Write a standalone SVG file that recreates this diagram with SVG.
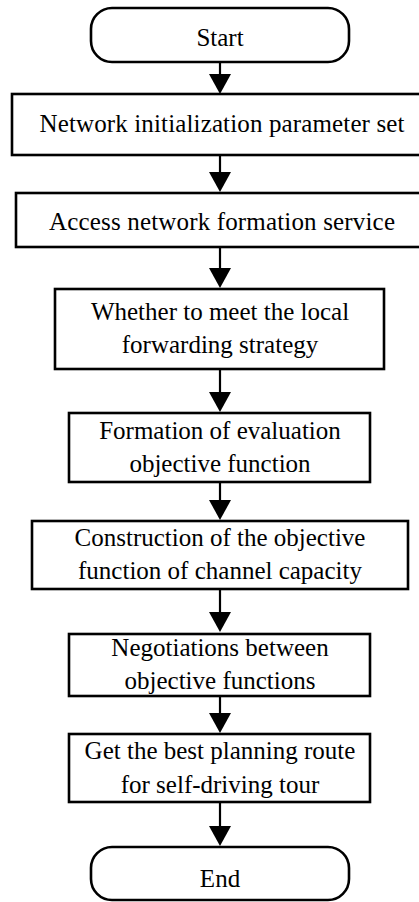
<svg xmlns="http://www.w3.org/2000/svg" width="419" height="902" viewBox="0 0 419 902">
<defs>
<style>
.box{fill:#fff;stroke:#000;stroke-width:2.6}
.t{font-family:'Liberation Serif','DejaVu Serif',serif;font-size:25px;fill:#000;text-anchor:middle}
.c{stroke:#000;stroke-width:2.2;fill:none}
</style>
</defs>
<rect width="419" height="902" fill="#fff"/>
<g id="connectors">
<path class="c" d="M220,63 L220,85"/><path d="M209,74 L231,74 L220,94 Z"/>
<path class="c" d="M220,156 L220,182"/><path d="M209,172 L231,172 L220,192 Z"/>
<path class="c" d="M220,248 L220,278"/><path d="M209,268 L231,268 L220,288 Z"/>
<path class="c" d="M220,369 L220,402"/><path d="M209,392 L231,392 L220,412 Z"/>
<path class="c" d="M220,482 L220,510"/><path d="M209,500 L231,500 L220,520 Z"/>
<path class="c" d="M220,589 L220,622"/><path d="M209,612 L231,612 L220,632 Z"/>
<path class="c" d="M220,696 L220,723"/><path d="M209,713 L231,713 L220,733 Z"/>
<path class="c" d="M220,802 L220,836"/><path d="M209,826 L231,826 L220,846 Z"/>
</g>
<g font-family="Liberation Serif, DejaVu Serif, serif">
<g id="start">
<rect class="box" x="91" y="8" width="258" height="54" rx="21" ry="21"/>
<text class="t" x="220" y="46">Start</text>
</g>
<g id="init">
<rect class="box" x="12" y="94" width="415" height="61"/>
<text class="t" x="222" y="132" textLength="365">Network initialization parameter set</text>
</g>
<g id="access">
<rect class="box" x="16" y="193" width="411" height="54"/>
<text class="t" x="222" y="230" textLength="346">Access network formation service</text>
</g>
<g id="whether">
<rect class="box" x="55" y="289" width="329" height="80"/>
<text class="t" x="220" y="320">Whether to meet the local</text>
<text class="t" x="220" y="353">forwarding strategy</text>
</g>
<g id="formation">
<rect class="box" x="69" y="413" width="301" height="69"/>
<text class="t" x="220" y="439">Formation of evaluation</text>
<text class="t" x="220" y="472">objective function</text>
</g>
<g id="construction">
<rect class="box" x="32" y="521" width="376" height="68"/>
<text class="t" x="220" y="546">Construction of the objective</text>
<text class="t" x="220" y="579">function of channel capacity</text>
</g>
<g id="negotiations">
<rect class="box" x="69" y="634" width="301" height="62"/>
<text class="t" x="220" y="656">Negotiations between</text>
<text class="t" x="220" y="689">objective functions</text>
</g>
<g id="best">
<rect class="box" x="69" y="734" width="301" height="68"/>
<text class="t" x="220" y="759">Get the best planning route</text>
<text class="t" x="220" y="793">for self-driving tour</text>
</g>
<g id="end">
<rect class="box" x="91" y="847" width="258" height="53" rx="21" ry="21"/>
<text class="t" x="220" y="887">End</text>
</g>
</g>
</svg>
